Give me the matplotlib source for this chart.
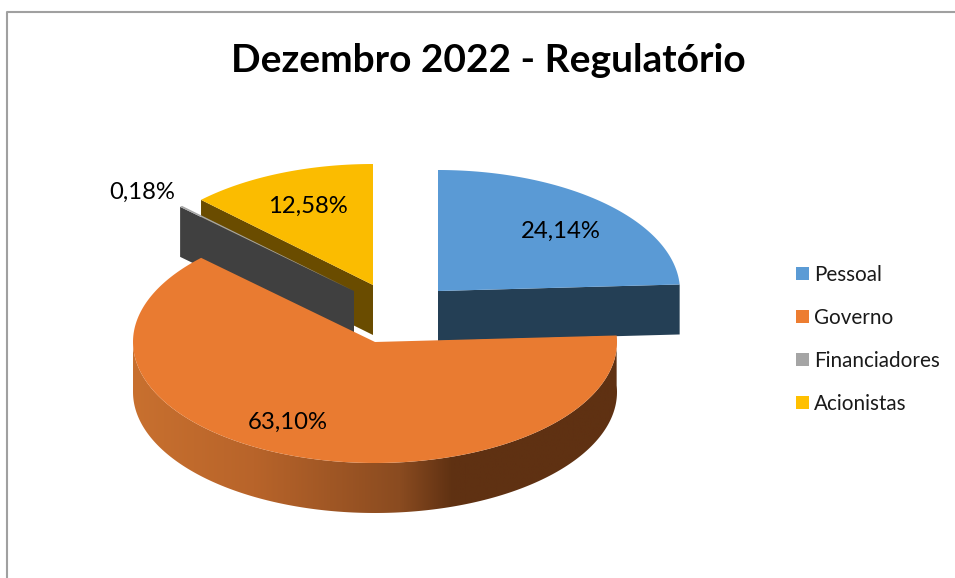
import numpy as np
import matplotlib
matplotlib.use('Agg')
import matplotlib.pyplot as plt
from matplotlib.patches import Polygon, Rectangle
from matplotlib.colors import LinearSegmentedColormap

title = 'Dezembro 2022 - Regulatório'
categories = ['Pessoal', 'Governo', 'Financiadores', 'Acionistas']
values = [24.14, 63.10, 0.18, 12.58]
labels = ['24,14%', '63,10%', '0,18%', '12,58%']

# pie geometry, in pixels
rx, ry, depth = 242, 121, 50
centers = [(438, 291), (375, 342), (354, 291), (373, 285)]
top_colors = ['#5a9ad5', '#e97b31', '#a5a5a5', '#fbbc00']
side_colors = ['#243f55', '#5f3112', '#404040', '#6a4c00']
legend_colors = ['#5b9bd5', '#ed7d31', '#a5a5a5', '#ffc000']
label_pos = [(561, 231.5), (288, 422), (142, 192.5), (308, 206.5)]
legend_y = [274, 317, 360, 403]

plt.rcParams['font.family'] = ['Lato', 'DejaVu Sans']

fig = plt.figure(figsize=(9.55, 5.78), dpi=100)
ax = fig.add_axes([0, 0, 1, 1])
ax.set_xlim(0, 955)
ax.set_ylim(578, 0)
ax.axis('off')

ax.plot([7, 7, 955], [578, 12, 12], color='#a0a0a0', lw=1.5)


def rim(c, t1, t2, dy=0):
    t = np.radians(np.linspace(t1, t2, 200))
    return np.column_stack([c[0] + rx * np.sin(t), c[1] + dy - ry * np.cos(t)])


edges = np.concatenate([[0], np.cumsum(values)]) * 3.6


def cut_face(c, t):
    p = rim(c, t, t)[0]
    return [c, p, (p[0], p[1] + depth), (c[0], c[1] + depth)]


# back pieces first, orange goes on top of them
# yellow, then grey over it, then blue
for z, i in enumerate([3, 2, 0]):
    c = centers[i]
    t = edges[1] if i == 0 else edges[i]
    ax.add_patch(Polygon(cut_face(c, t), fc=side_colors[i], ec='none', zorder=2 + z * 0.1))
    pts = np.vstack([[c], rim(c, edges[i], edges[i + 1])])
    ax.add_patch(Polygon(pts, fc=top_colors[i], ec='none', zorder=2.05 + z * 0.1))

# orange wall with the shading, only the front part shows
c = centers[1]
t1, t2 = edges[1], min(edges[2], 270)
wall = np.vstack([rim(c, t1, t2), rim(c, t2, t1, depth)])
wall_patch = Polygon(wall, fc='none', ec='none')
ax.add_patch(wall_patch)
cmap = LinearSegmentedColormap.from_list('wall', [
    (0.0, '#c8702f'), (0.25, '#b8642a'), (0.55, '#8a4b20'), (0.66, '#5f3112'), (1.0, '#5f3112')])
im = ax.imshow(np.linspace(0, 1, 256).reshape(1, -1), cmap=cmap, aspect='auto',
               extent=(c[0] - rx, c[0] + rx, c[1] + ry + depth, c[1] - ry), zorder=4)
im.set_clip_path(wall_patch)
ax.set_xlim(0, 955)
ax.set_ylim(578, 0)

pts = np.vstack([[c], rim(c, edges[1], edges[2])])
ax.add_patch(Polygon(pts, fc=top_colors[1], ec='none', zorder=5))

ax.text(488, 60, title, fontsize=28, fontweight='bold', ha='center', va='center', color='black')

for lab, (x, y) in zip(labels, label_pos):
    ax.text(x, y, lab, fontsize=17.2, ha='center', va='center', color='black', zorder=6)

for cat, col, y in zip(categories, legend_colors, legend_y):
    ax.add_patch(Rectangle((796, y - 7), 13, 13, fc=col, ec='none'))
    ax.text(814, y + 1, cat, fontsize=14.9, ha='left', va='center', color='#1a1a1a')

fig.savefig('out.png', dpi=100)
